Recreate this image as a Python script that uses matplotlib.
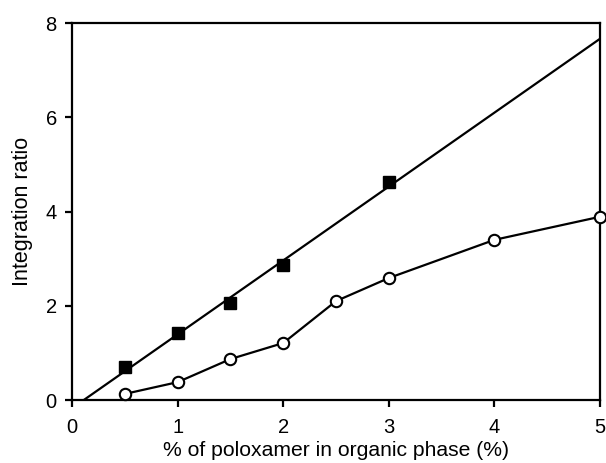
import numpy as np
import matplotlib
matplotlib.use("Agg")
import matplotlib.pyplot as plt

plt.rcParams['font.family'] = ['Liberation Sans', 'DejaVu Sans']

# filled squares (with linear fit)
x_sq = [0.5, 1.0, 1.5, 2.0, 3.0]
y_sq = [0.70, 1.42, 2.06, 2.87, 4.63]

# open circles
x_ci = [0.5, 1.0, 1.5, 2.0, 2.5, 3.0, 4.0, 5.0]
y_ci = [0.13, 0.38, 0.87, 1.21, 2.10, 2.59, 3.40, 3.89]

slope, icpt = np.polyfit(x_sq, y_sq, 1)
x_fit = np.array([-icpt / slope, 5.0])

fig = plt.figure(figsize=(6.06, 4.63), dpi=100)
ax = fig.add_axes([0.119, 0.136, 0.871, 0.814])

ax.plot(x_fit, slope * x_fit + icpt, color='black', lw=1.6, zorder=2)
ax.plot(x_sq, y_sq, ls='none', marker='s', ms=9.3, color='black', zorder=3)
ax.plot(x_ci, y_ci, color='black', lw=1.6, marker='o', ms=8.2,
        mfc='white', mec='black', mew=1.5, zorder=3, clip_on=False)

ax.set_xlim(0, 5)
ax.set_ylim(0, 8)
ax.set_xticks([0, 1, 2, 3, 4, 5])
ax.set_yticks([0, 2, 4, 6, 8])
ax.tick_params(direction='out', length=5, width=1.6, labelsize=14.5)
ax.tick_params(axis='x', pad=8)
ax.tick_params(axis='y', pad=6)
for s in ax.spines.values():
    s.set_linewidth(1.6)
ax.set_xlabel('% of poloxamer in organic phase (%)', fontsize=15.2, labelpad=3)
ax.set_ylabel('Integration ratio', fontsize=15.5, labelpad=9)

fig.savefig('out.png', dpi=100)
